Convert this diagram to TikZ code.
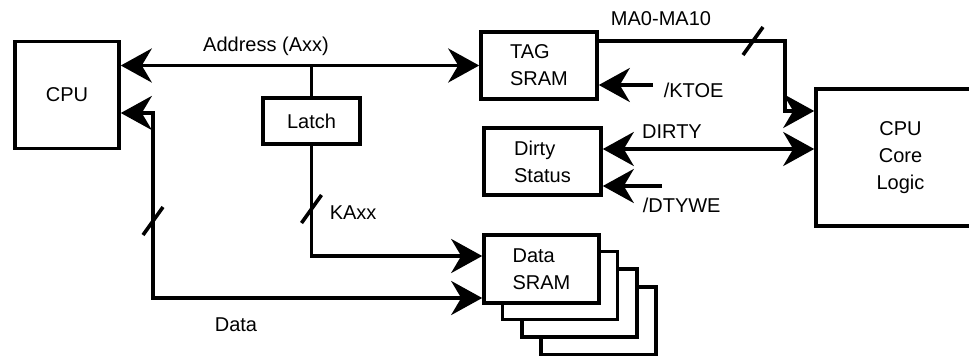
\documentclass[tikz,border=0pt]{standalone}
\usepackage{fontspec}
\setmainfont{Liberation Sans}
\usetikzlibrary{arrows.meta}
\tikzset{block/.style={draw, fill=white, inner sep=0pt, align=left}}
\tikzset{lbl/.style={inner sep=0pt}}
\tikzset{buscut/.pic={\draw (-10,14) -- (10,-14);}}

\begin{document}
\begin{tikzpicture}[x=1pt, y=-1pt, line width=3.6pt, font=\fontsize{20}{27}\selectfont,
    >={Stealth[length=31pt,width=34pt,inset=10pt]}]
  \useasboundingbox (0,0) rectangle (969,356);
  % blocks
  \node[block, minimum width=104pt, minimum height=107pt] (cpu) at (67,95) {CPU};
  \node[block, minimum width=116pt, minimum height=67pt] (tag) at (539,65.5) {TAG\\SRAM};
  \node[block, minimum width=97pt, minimum height=46pt] (latch) at (311.5,121) {Latch};
  \node[block, minimum width=117pt, minimum height=67pt] (dirty) at (542.5,161.5) {Dirty\\Status};
  \foreach \i/\dx/\dy in {4/57/52, 3/38/34, 2/18.5/16.5}
    \node[block, minimum width=115pt, minimum height=68pt] (data\i) at (541.5+\dx,269+\dy) {};
  \node[block, minimum width=115pt, minimum height=68pt] (data) at (541.5,269) {Data\\SRAM};
  \node[block, align=center, minimum width=169pt, minimum height=137pt] (core) at (900.5,157.5) {CPU\\Core\\Logic};

  % labels
  \node[lbl] (addr) at (266,46) {Address (Axx)};
  \node[lbl] (ma) at (661,18.5) {MA0-MA10};
  \node[lbl, anchor=west] (ktoe) at (662,90.5) {/KTOE};
  \node[lbl] (dirtylbl) at (672,131.5) {DIRTY};
  \node[lbl, anchor=west] (dtywe) at (641,205.5) {/DTYWE};
  \node[lbl, anchor=west] (kaxx) at (328,212.5) {KAxx};
  \node[lbl] (datalbl) at (236,324.5) {Data};

  % buses
  \coordinate (kaend) at (0,256);
  \coordinate (dtop) at (153,113);
  \coordinate (dbot) at (153,298);
  \coordinate (maturn) at (785,41);
  \coordinate (mabend) at (785,111);
  \coordinate (ktoein) at (653,85);
  \coordinate (dirtyy) at (0,149);
  \coordinate (dtywein) at (662,186);
  \draw[<->] (cpu.east |- tag.west) -- (tag.west);
  \draw (latch.north) -- (latch.north |- tag.west);
  \draw[->] (latch.south) |- (data.west |- kaend);
  \draw[<->] (cpu.east |- dtop) -- (dtop) -- (dbot) -- (dbot -| data.west);
  \draw[->] (tag.east |- maturn) -- (maturn) -- (mabend) -- (mabend -| core.west);
  \draw[->] (ktoein) -- (ktoein -| tag.east);
  \draw[<->] (dirty.east |- dirtyy) -- (core.west |- dirtyy);
  \draw[->] (dtywein) -- (dtywein -| dirty.east);

  % bus width marks
  \pic at (153,221) {buscut};
  \pic at (311.5,209) {buscut};
  \pic at (753,41) {buscut};
\end{tikzpicture}
\end{document}
